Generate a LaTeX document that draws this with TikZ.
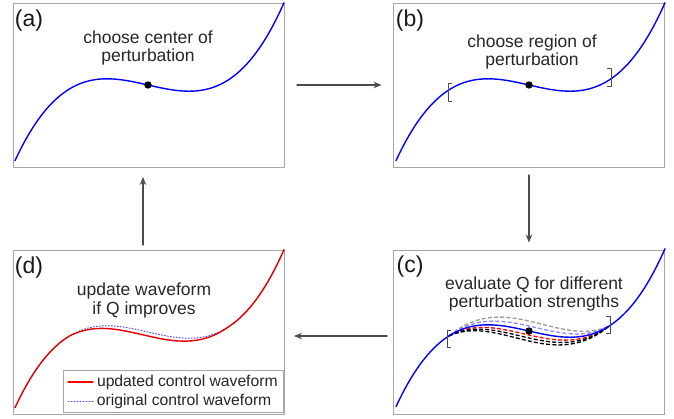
\documentclass[tikz,border=0pt]{standalone}
\usepackage{fontspec}
\setmainfont{Liberation Sans}
\usetikzlibrary{arrows.meta}
\begin{document}
\begin{tikzpicture}[x=1pt, y=-1pt, line join=round, line cap=round, >={Stealth[length=8pt, width=6.5pt]},
	panel/.style={draw=black!35, line width=0.9pt, minimum width=271pt, minimum height=164pt, inner sep=0pt, outer sep=0pt},
	title/.style={align=center, font=\fontsize{17.5}{18.5}\selectfont, text=black!85},
	tag/.style={font=\fontsize{23}{24}\selectfont, text=black!90, inner sep=0pt},
	flow/.style={->, line width=1.1pt, draw=black!70},
	wave/.style={line width=1.4pt, samples=150, smooth},
	pert/.style={line width=1.3pt, line cap=butt, dash pattern=on 4pt off 2.2pt, samples=60, smooth, domain=-0.8:0.8},
	brack/.style={draw=black!70, line width=0.9pt, line cap=butt}]
	\def\wv#1{(45*(#1)*(#1)*(#1)-22.7*(#1))}
	\def\win#1{cos(112.5*max(-0.8,min(0.8,#1)))}
	\useasboundingbox (0,0) rectangle (674,418);
	\node[panel] (pa) at (148.5,85) {};
	\node[panel] (pb) at (529,85) {};
	\node[panel] (pc) at (529,332) {};
	\node[panel] (pd) at (148.5,332) {};
	\node[tag] (la) at (29,21) {(a)};
	\node[tag] (lb) at (410,21) {(b)};
	\node[tag] (lc) at (410,267) {(c)};
	\node[tag] (ld) at (29,268) {(d)};
	\node[title] (ta) at (148,48) {choose center of\\perturbation};
	\node[title] (tb) at (532,52) {choose region of\\perturbation};
	\node[title] (tc) at (534,294) {evaluate Q for different\\perturbation strengths};
	\node[title] (td) at (144,300.5) {update waveform\\if Q improves};
	\draw[flow, shorten <=13pt, shorten >=12pt] (pa.east) -- (pb.west);
	\draw[flow, shorten <=8pt, shorten >=7.5pt] (pb.south) -- (pc.north);
	\draw[flow, shorten <=6.5pt, shorten >=10pt] ([yshift=-4pt]pc.west) -- ([yshift=-4pt]pd.east);
	\draw[flow, shorten <=5pt, shorten >=10pt] ([xshift=-5.5pt]pd.north) -- ([xshift=-5.5pt]pa.south);
	% (a)
	\begin{scope}[shift={(148,85)}, yscale=-1]
		\draw[wave, blue, domain=-1.33:1.36] plot ({100*\x},{\wv{\x}});
		\fill (0,0) circle (3.7pt);
	\end{scope}
	% (b)
	\begin{scope}[shift={(529,85)}, yscale=-1]
		\draw[wave, blue, domain=-1.33:1.36] plot ({100*\x},{\wv{\x}});
		\fill (0,0) circle (3.7pt);
		\draw[brack] (-77,2) -- (-81,2) -- (-81,-16) -- (-77,-16);
		\draw[brack] (78,17) -- (82,17) -- (82,-1) -- (78,-1);
	\end{scope}
	% (c)
	\begin{scope}[shift={(529,331)}, yscale=-1]
		\foreach \s/\col in {10/black!40, 5/blue!45, -4/red, -7/black, -10/black}
			\draw[pert, \col] plot ({100*\x},{\wv{\x}+\s*\win{\x}});
		\draw[wave, blue, domain=-1.33:1.36] plot ({100*\x},{\wv{\x}});
		\fill (0,0) circle (3.7pt);
		\draw[brack] (-78,1) -- (-82,1) -- (-82,-16) -- (-78,-16);
		\draw[brack] (77,15) -- (81,15) -- (81,-2) -- (77,-2);
	\end{scope}
	% (d)
	\begin{scope}[shift={(148,332)}, yscale=-1]
		\draw[blue!70, line width=1pt, dotted, domain=-1.33:1.36, samples=150, smooth] plot ({100*\x},{\wv{\x}});
		\draw[wave, red!90!black, domain=-1.33:1.36] plot ({100*\x},{\wv{\x}-4*\win{\x}});
	\end{scope}
	\node[draw=black!35, line width=0.8pt, fill=white, minimum width=220pt, minimum height=42pt, inner sep=0pt] (key) at (173,391) {};
	\draw[red, line width=1.4pt] (68,382) -- (93,382) node[right, font=\fontsize{15.7}{16}\selectfont, text=black!85] (k1) {updated control waveform};
	\draw[blue!70, line width=1pt, dotted] (68,401) -- (93,401) node[right, font=\fontsize{15.7}{16}\selectfont, text=black!85] (k2) {original control waveform};
\end{tikzpicture}
\end{document}
